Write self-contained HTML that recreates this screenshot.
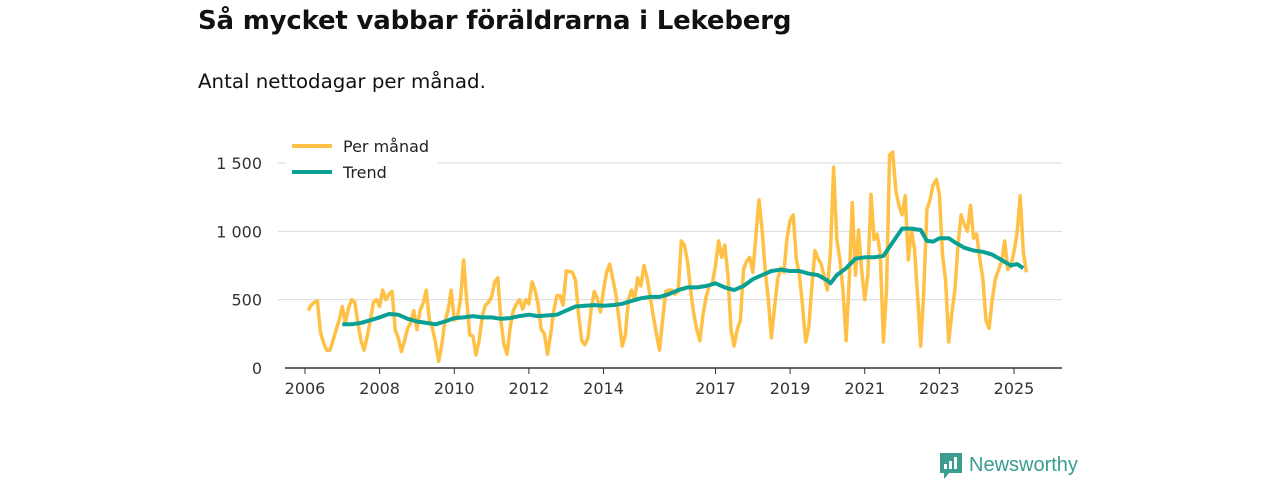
<!DOCTYPE html>
<html><head><meta charset="utf-8"><style>
body{margin:0;background:#fff;width:1280px;height:480px;overflow:hidden;font-family:"Liberation Sans","DejaVu Sans",sans-serif;}
#title{position:absolute;left:198px;top:6px;font-size:26px;font-weight:bold;color:#111;font-family:"DejaVu Sans","Liberation Sans",sans-serif;letter-spacing:-0.2px}
#sub{position:absolute;left:198px;top:70px;font-size:19.8px;color:#111;font-family:"DejaVu Sans","Liberation Sans",sans-serif}
svg{position:absolute;left:0;top:0}
</style></head><body>
<div id="title">Så mycket vabbar föräldrarna i Lekeberg</div>
<div id="sub">Antal nettodagar per månad.</div>
<svg id="chart" width="1280" height="480"></svg>
<script>
const startMonth = 1;
const monthly = [420,460,480,490,260,180,130,130,200,280,350,450,
330,440,500,480,330,200,130,230,350,480,500,450,
570,500,540,560,280,220,120,200,290,330,420,280,
420,475,570,350,290,180,50,170,340,420,570,350,
370,500,790,500,240,235,95,200,380,460,480,520,
630,660,350,170,100,300,420,470,500,430,500,470,
630,570,460,280,250,100,250,420,530,530,460,710,
705,700,640,390,200,170,220,425,560,510,410,570,
700,760,650,535,350,160,240,500,570,500,660,600,
750,660,520,380,250,130,350,560,570,570,540,560,
930,900,780,570,400,280,200,390,520,600,620,750,
930,810,900,680,280,160,280,350,720,780,810,700,
970,1230,1010,720,500,220,450,650,730,700,950,1080,
1120,800,680,460,190,300,600,860,800,760,660,570,
860,1470,940,790,570,200,640,1210,680,1010,720,500,
680,1270,940,980,830,190,570,1560,1580,1300,1190,1120,
1260,790,1010,870,530,160,570,1160,1230,1340,1380,1270,
830,640,190,400,570,900,1120,1050,1000,1190,950,980,
800,650,350,290,500,650,720,780,930,720,750,850,
990,1260,850,700];
const trendMonths = [12,15,18,21,24,27,30,33,36,39,42,45,48,51,54,57,60,63,66,69,72,75,78,81,84,87,90,93,96,99,102,105,108,111,114,117,120,123,126,129,132,135,138,141,144,147,150,153,156,159,162,165,168,169,171,174,177,180,183,186,189,192,195,198,200,202,204,207,209,212,215,218,221,224,227,229,231];
const trendValues = [320,320,330,350,370,395,390,360,340,330,320,340,365,370,380,370,370,360,365,380,390,380,385,390,420,450,455,460,455,460,470,490,510,520,520,540,570,590,590,600,620,590,570,600,650,680,710,720,710,710,690,680,640,620,680,730,800,810,810,820,920,1020,1020,1010,930,925,950,950,920,880,860,850,830,790,750,760,730];
const yTicks = [0,500,1000,1500];
const yTickLabels = ["0","500","1 000","1 500"];
const xTickYears = [2006,2008,2010,2012,2014,2017,2019,2021,2023,2025];

const svg = document.getElementById('chart');
const NS='http://www.w3.org/2000/svg';
const X0=305, PXM=(1014-305)/(19*12);
const xs = m => X0 + m*PXM;
const ys = v => 368 - v*(205/1500);
function mk(tag, attrs, parent){const e=document.createElementNS(NS,tag);for(const k in attrs)e.setAttribute(k,attrs[k]);(parent||svg).appendChild(e);return e;}

yTicks.forEach((t,i)=>{
  if(t>0){const g=mk('line',{x1:278,x2:1062,y1:ys(t),y2:ys(t),stroke:'#d9d9d9','stroke-width':1});
  
  }
  const tx=mk('text',{x:262,y:ys(t)+6,'text-anchor':'end','font-size':16,fill:'#333','font-family':'DejaVu Sans, Liberation Sans, sans-serif'});
  tx.textContent=yTickLabels[i];
  
  
});
const ax=mk('line',{x1:285,x2:1062,y1:368,y2:368,stroke:'#333','stroke-width':1.5});


xTickYears.forEach(y=>{
  const x=xs((y-2006)*12);
  const tk=mk('line',{x1:x,x2:x,y1:368,y2:374,stroke:'#333','stroke-width':1});
  
  
  const t=mk('text',{x:x,y:394,'text-anchor':'middle','font-size':16,fill:'#333','font-family':'DejaVu Sans, Liberation Sans, sans-serif'});
  t.textContent=y;
  
  
});
const pts=monthly.map((v,i)=>xs(startMonth+i).toFixed(1)+','+ys(v).toFixed(1)).join(' ');
const l1=mk('polyline',{points:pts,fill:'none',stroke:'#FFC145','stroke-width':3.5,'stroke-linejoin':'round'});


const tp=trendMonths.map((m,i)=>xs(m).toFixed(1)+','+ys(trendValues[i]).toFixed(1)).join(' ');
const l2=mk('polyline',{points:tp,fill:'none',stroke:'#0AA093','stroke-width':4,'stroke-linejoin':'round'});



const lg=mk('g',{});


mk('rect',{x:286,y:132,width:152,height:52,fill:'#fff'},lg);
[['Per månad','#FFC145',146],['Trend','#0AA093',172]].forEach(([n,c,y])=>{
  const li=mk('line',{x1:292,x2:332,y1:y,y2:y,stroke:c,'stroke-width':4},lg);
  
  
  const t=mk('text',{x:343,y:y+6,'font-size':16,fill:'#222','font-family':'DejaVu Sans, Liberation Sans, sans-serif'},lg);
  t.textContent=n;
  
  
});
const logo=mk('g',{});


mk('path',{d:'M940 453 h22 v20 h-13 l-5 6 v-6 h-4 z',fill:'#3a9d8f'},logo);
mk('rect',{x:944,y:464,width:3,height:5,fill:'#fff'},logo);
mk('rect',{x:949,y:461,width:3,height:8,fill:'#fff'},logo);
mk('rect',{x:954,y:457,width:3,height:12,fill:'#fff'},logo);
const lt=mk('text',{x:969,y:471,'font-size':20,fill:'#3a9d8f','font-family':'Liberation Sans, sans-serif'},logo);
lt.textContent='Newsworthy';
</script>
</body></html>
